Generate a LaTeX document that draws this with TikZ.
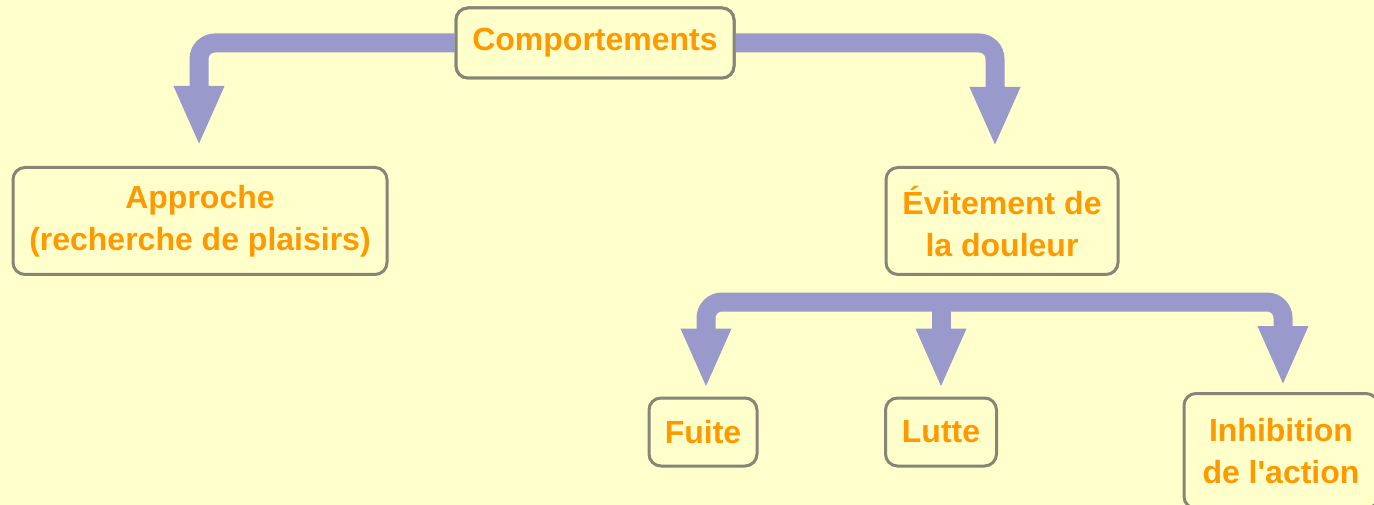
\documentclass[tikz,border=0pt]{standalone}
\usepackage{fontspec}
\newfontfamily\boxfont{Liberation Sans}
\usetikzlibrary{arrows.meta}
\definecolor{bg}{HTML}{FFFFCC}
\definecolor{arrowc}{HTML}{9999CC}
\definecolor{txt}{HTML}{FF9900}
\definecolor{edge}{HTML}{858578}
\begin{document}
\begin{tikzpicture}[x=1pt,y=-1pt,
  box/.style={draw=edge, line width=3pt, fill=bg, rounded corners=12pt,
    text=txt, font=\boxfont\fontsize{32}{42}\selectfont\bfseries, align=center,
    inner sep=0pt},
  arr/.style={draw=arrowc, line width=19pt, rounded corners=16pt,
    -{Triangle[length=60pt,width=46pt]}}]
\fill[bg] (0,0) rectangle (1374,505);
\useasboundingbox (0,0) rectangle (1374,505);
\clip (0,0) rectangle (1374,505);
% nodes
\node[box, minimum width=278pt, minimum height=70pt] (comp) at (595,43) {Comportements};
\node[box, minimum width=374pt, minimum height=107pt] (app) at (200,221) {Approche\\(recherche de plaisirs)};
\node[box, minimum width=232pt, minimum height=107pt] (evit) at (1002,221) {Évitement de\\la douleur};
\node[box, minimum width=108pt, minimum height=68pt] (fuite) at (703,432) {Fuite};
\node[box, minimum width=111pt, minimum height=68pt] (lutte) at (941,432) {Lutte};
\node[box, minimum width=194pt, minimum height=115pt] (inhib) at (1281,451) {Inhibition\\de l'action};
\coordinate (split) at (1002,302);
% connectors
\draw[arr, shorten >=20pt] (comp.west) -| ([xshift=-1pt]app.north);
\draw[arr, shorten >=19pt] (comp.east) -| ([xshift=-7pt]evit.north);
\draw[arr, shorten >=8pt] (split) -| ([xshift=3pt]fuite.north);
\draw[arr, shorten >=8pt] (split -| lutte.north) -- (lutte.north);
\draw[arr, shorten >=6pt] (split) -| ([xshift=2pt]inhib.north);
% redraw top node above its connectors
\node[box, minimum width=278pt, minimum height=70pt] at (comp) {Comportements};
\end{tikzpicture}
\end{document}
